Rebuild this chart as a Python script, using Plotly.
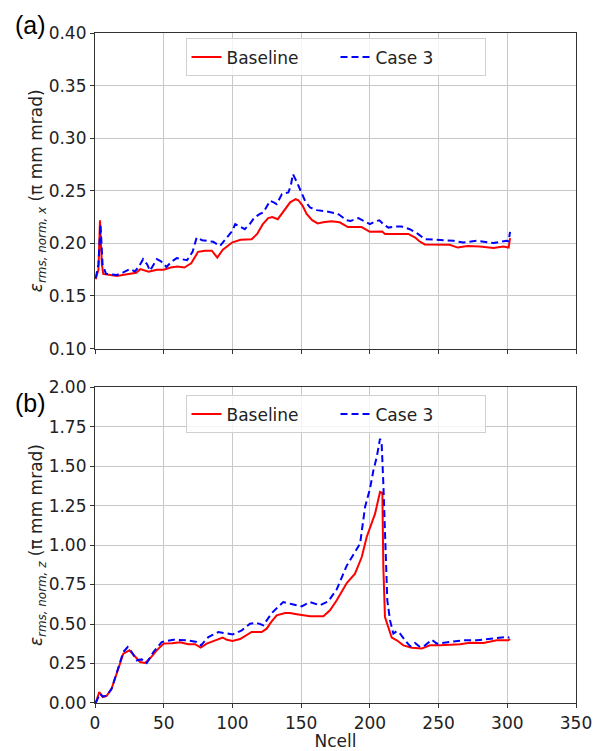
import plotly.graph_objects as go

# ---- data: panel (a) ----
a_base_x = [0.5,2.5,3.6,5,6,10,16,20,25,30,33,36,39,42,45,50,55,60,65,70,75,80,85,89,93,97,100,106,110,114,
            118,122,126,129,133,138,142,146,148,151,154,158,162,166,172,178,184,190,194,200,205,209,211,216,221,228,233,236,240,249,
            258,264,271,280,290,297,301,302]
a_base_y = [0.166,0.175,0.222,0.180,0.171,0.170,0.169,0.170,0.171,0.172,0.1755,0.174,0.173,0.174,0.175,0.175,0.177,0.178,0.177,0.181,
            0.192,0.193,0.193,0.1865,0.194,0.198,0.201,0.2035,0.204,0.204,0.209,0.218,0.224,0.225,0.223,0.232,0.239,0.242,0.241,0.236,
            0.228,0.222,0.219,0.220,0.221,0.220,0.2155,0.2155,0.2155,0.211,0.2115,0.2113,0.209,0.209,0.2085,0.209,0.2056,0.202,0.199,0.1986,
            0.1986,0.196,0.1975,0.197,0.1957,0.197,0.196,0.205]
a_case_x = [0.5,2.5,4,5.5,8,16,20.6,25.5,29,32,35,38,40,42.5,45,48,52,56,59.5,63,67,71,74,78,81,86,91,96,100,102,
            106,109,113,116,120,122.5,125,127.4,130,132.2,136,140.7,142.5,144,147,150.4,153,156.5,161.4,168.6,
            176,178,183,186,191.6,196,200,204,207,210,213.5,218,223,229,235,240,251,261,268,278,290,299.6,301,302]
a_case_y = [0.167,0.180,0.218,0.180,0.171,0.170,0.1724,0.1756,0.1733,0.178,0.185,0.180,0.174,0.180,0.185,0.183,0.1776,0.183,0.186,0.185,
            0.184,0.192,0.2056,0.203,0.2025,0.2015,0.1976,0.2056,0.212,0.2183,0.216,0.2135,0.219,0.2246,0.228,0.2294,0.235,0.2405,0.239,0.2373,
            0.2469,0.2484,0.255,0.2659,0.258,0.2469,0.240,0.2341,0.2316,0.2303,0.2284,0.227,0.222,0.2214,0.224,0.221,0.2183,0.221,0.222,0.218,
            0.215,0.216,0.216,0.2135,0.209,0.204,0.2035,0.2025,0.2008,0.2025,0.2003,0.2025,0.202,0.211]

# ---- data: panel (b) ----
b_base_x = [0.5,3.1,5.6,8.5,12.1,15.8,20.6,25,29.1,32.8,36.4,40,44.9,50,56,61.9,67.9,72.8,76.9,81.3,
            86.1,92.9,96,100,105.6,110,114,121.3,124.9,128,132.2,138.3,141.9,146.8,151,156.5,162,166.2,171,175.9,
            183.2,189.2,194.1,197.7,203.8,207.4,209.1,209.8,211,213.5,215.9,219.6,224.4,230.5,237.8,243.8,251.1,265.6,272.9,282.6,
            292.3,300.8,302]
b_base_y = [0.0,0.07,0.038,0.045,0.091,0.186,0.3125,0.3335,0.291,0.2595,0.253,0.281,0.3335,0.376,0.378,0.384,0.372,0.372,0.3505,0.376,
            0.392,0.414,0.40,0.392,0.405,0.43,0.4494,0.4494,0.4707,0.51,0.555,0.5696,0.5696,0.562,0.555,0.5487,0.5487,0.5487,0.5867,0.650,
            0.7595,0.819,0.924,1.051,1.199,1.336,1.33,0.861,0.544,0.481,0.414,0.397,0.365,0.35,0.345,0.365,0.365,0.3715,0.382,0.38,
            0.397,0.397,0.405]
b_case_x = [0.5,3.6,5.6,8.5,12.1,15.8,20.6,23.8,26.7,30.3,34,37.6,42.5,48.5,57,66.7,74,77.1,82.5,89.7,
            95.9,100.2,106.8,112.8,117.6,122.5,128.6,137,144.3,150.4,156.5,163.7,169.8,175.9,183.2,188,192.9,196.5,200.1,202.6,
            205,207.4,208.6,209.8,211,212.7,214.7,217.1,219.6,222,225.6,229.3,232.9,236.5,240.2,245,248.7,258.4,268,277.8,
            287.5,299.6,301.5]
b_case_y = [0.0,0.06,0.042,0.044,0.09,0.186,0.323,0.354,0.323,0.270,0.276,0.253,0.323,0.386,0.401,0.397,0.386,0.365,0.4177,0.449,
            0.439,0.434,0.46,0.502,0.507,0.492,0.5696,0.639,0.624,0.612,0.639,0.618,0.644,0.72,0.87,0.935,1.009,1.241,1.357,1.473,
            1.557,1.673,1.64,1.389,1.03,0.65,0.523,0.439,0.455,0.439,0.397,0.359,0.38,0.355,0.365,0.401,0.376,0.386,0.397,0.397,
            0.407,0.418,0.414]

x_ticks = [0, 50, 100, 150, 200, 250, 300, 350]
a_yticks = [0.10, 0.15, 0.20, 0.25, 0.30, 0.35, 0.40]
b_yticks = [0.00, 0.25, 0.50, 0.75, 1.00, 1.25, 1.50, 1.75, 2.00]

RED = "#ff0000"
BLUE = "#0000ff"
FONT = "DejaVu Sans"
DASH = "7px,4px"

fig = go.Figure()
fig.add_trace(go.Scatter(x=a_base_x, y=a_base_y, mode="lines", name="Baseline",
                         line=dict(color=RED, width=2), xaxis="x2", yaxis="y2", legend="legend"))
fig.add_trace(go.Scatter(x=a_case_x, y=a_case_y, mode="lines", name="Case 3",
                         line=dict(color=BLUE, width=2, dash=DASH), xaxis="x2", yaxis="y2", legend="legend"))
fig.add_trace(go.Scatter(x=b_base_x, y=b_base_y, mode="lines", name="Baseline",
                         line=dict(color=RED, width=2), xaxis="x", yaxis="y", legend="legend2"))
fig.add_trace(go.Scatter(x=b_case_x, y=b_case_y, mode="lines", name="Case 3",
                         line=dict(color=BLUE, width=2, dash=DASH), xaxis="x", yaxis="y", legend="legend2"))

axis_common = dict(showline=True, linecolor="#333333", linewidth=1.2, mirror=True,
                   showgrid=True, gridcolor="#c8c8c8", gridwidth=1, automargin=False,
                   ticks="outside", ticklen=4, tickcolor="#333333", zeroline=False,
                   tickfont=dict(family=FONT, size=17, color="#222222"))

legend_common = dict(orientation="h", xanchor="center", x=0.5, yanchor="top",
                     bgcolor="rgba(255,255,255,0.8)", bordercolor="#d0d0d0", borderwidth=1,
                     font=dict(family=FONT, size=17, color="#222222"), entrywidth=104)

ytitle_font = dict(family=FONT, size=17, color="#222222")

# page body adds an 8px offset; figure is sized/margined to compensate
fig.update_layout(
    width=593, height=743,
    margin=dict(l=87, r=25, t=24.5, b=48),
    plot_bgcolor="white", paper_bgcolor="white",
    showlegend=True,
    xaxis=dict(domain=[0, 1], anchor="y", range=[0, 350], tickvals=x_ticks,
               title=dict(text="Ncell", font=dict(family=FONT, size=17, color="#222222"), standoff=0),
               **axis_common),
    yaxis=dict(domain=[0, 0.4715], anchor="x", range=[0, 2.0], tickvals=b_yticks, tickformat=".2f",
               title=dict(text="<i>ε</i><sub><i>rms, norm, z</i></sub> (π mm mrad)",
                          font=ytitle_font, standoff=0),
               **axis_common),
    xaxis2=dict(domain=[0, 1], anchor="y2", range=[0, 350], tickvals=x_ticks, showticklabels=False,
                matches="x", **axis_common),
    yaxis2=dict(domain=[0.529, 1], anchor="x2", range=[0.10, 0.40], tickvals=a_yticks, tickformat=".2f",
                title=dict(text="<i>ε</i><sub><i>rms, norm, x</i></sub> (π mm mrad)",
                           font=ytitle_font, standoff=0),
                **axis_common),
    legend=dict(y=0.992, **legend_common),
    legend2=dict(y=0.459, **legend_common),
    annotations=[
        dict(text="(a)", xref="paper", yref="paper", x=-0.170, y=1.036, xanchor="left", yanchor="top",
             showarrow=False, font=dict(family="Liberation Sans", size=25, color="black")),
        dict(text="(b)", xref="paper", yref="paper", x=-0.170, y=0.472, xanchor="left", yanchor="top",
             showarrow=False, font=dict(family="Liberation Sans", size=25, color="black")),
    ],
)

fig.write_html("out.html")
